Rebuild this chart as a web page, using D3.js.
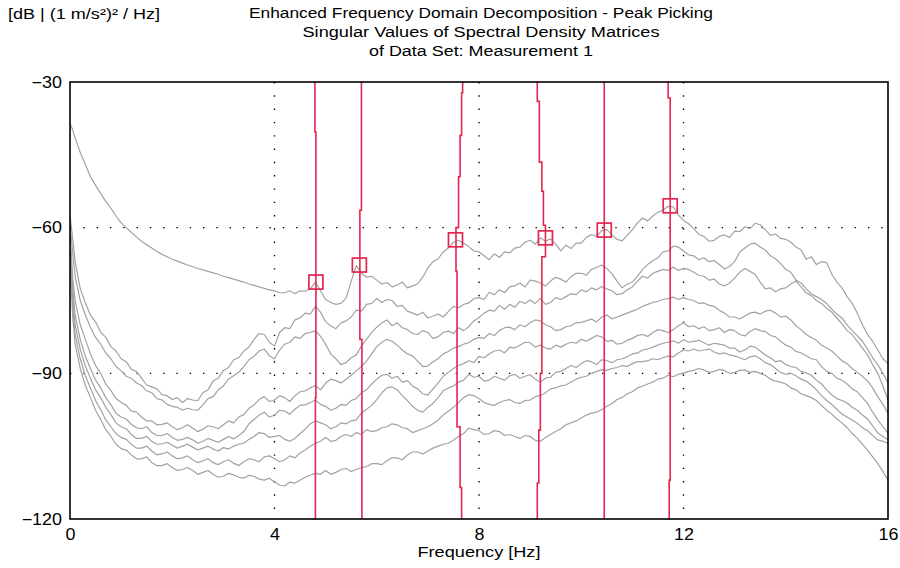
<!DOCTYPE html>
<html>
<head>
<meta charset="utf-8">
<script src="https://cdn.jsdelivr.net/npm/d3@7"></script>
<style>
  body { margin: 0; background: #fff; }
  text { font-family: "Liberation Sans", Arial, sans-serif; fill: #000; }
</style>
</head>
<body>
<div class="efdd"></div>
<script>
// frequency grid [Hz]
const freq = [0, 0.05, 0.1, 0.2, 0.3,
  0.4, 0.5, 0.6, 0.7, 0.8, 0.9,
  1.0, 1.1, 1.2, 1.3, 1.4, 1.5, 1.6, 1.7, 1.8, 1.9,
  2.0, 2.1, 2.2, 2.3, 2.4, 2.5, 2.6, 2.7, 2.8, 2.9,
  3.0, 3.1, 3.2, 3.3, 3.4, 3.5, 3.6, 3.7, 3.8, 3.9,
  4.0, 4.1, 4.2, 4.3, 4.4, 4.5, 4.6, 4.7, 4.8, 4.9,
  5.0, 5.1, 5.2, 5.3, 5.4, 5.5, 5.6, 5.7, 5.8, 5.9,
  6.0, 6.1, 6.2, 6.3, 6.4, 6.5, 6.6, 6.7, 6.8, 6.9,
  7.0, 7.1, 7.2, 7.3, 7.4, 7.5, 7.6, 7.7, 7.8, 7.9,
  8.0, 8.1, 8.2, 8.3, 8.4, 8.5, 8.6, 8.7, 8.8, 8.9,
  9.0, 9.1, 9.2, 9.3, 9.4, 9.5, 9.6, 9.7, 9.8, 9.9,
  10.0, 10.1, 10.2, 10.3, 10.4, 10.5, 10.6, 10.7, 10.8, 10.9,
  11.0, 11.1, 11.2, 11.3, 11.4, 11.5, 11.6, 11.7, 11.8, 11.9,
  12.0, 12.1, 12.2, 12.3, 12.4, 12.5, 12.6, 12.7, 12.8, 12.9,
  13.0, 13.1, 13.2, 13.3, 13.4, 13.5, 13.6, 13.7, 13.8, 13.9,
  14.0, 14.1, 14.2, 14.3, 14.4, 14.5, 14.6, 14.7, 14.8, 14.9,
  15.0, 15.1, 15.2, 15.3, 15.4, 15.5, 15.6, 15.7, 15.8, 15.9,
  16.0];

// singular values [dB]
const sv1 = [-38.5, -39.8, -41.5, -44.5, -47.0,
  -49.5, -51.3, -53.0, -54.6, -56.0, -57.6,
  -59.0, -60.0, -61.0, -61.9, -62.8, -63.5, -64.2, -64.9, -65.5, -66.0,
  -66.5, -66.9, -67.3, -67.7, -68.0, -68.4, -68.7, -69.0, -69.3, -69.6,
  -70.0, -70.3, -70.6, -70.9, -71.2, -71.6, -71.9, -72.2, -72.5, -72.8,
  -73.0, -73.4, -73.4, -73.0, -73.6, -73.0, -73.1, -72.6, -71.2, -73.0,
  -74.8, -75.4, -75.8, -75.6, -74.5, -71.0, -67.8, -69.4, -70.2, -70.0,
  -70.8, -71.6, -71.3, -72.2, -71.8, -71.2, -72.4, -72.0, -71.6, -70.2,
  -68.3, -67.0, -66.4, -65.0, -64.2, -63.0, -62.6, -63.2, -63.9, -64.8,
  -65.0, -65.8, -66.6, -65.4, -66.1, -65.0, -65.2, -64.2, -64.0, -63.0,
  -62.6, -63.4, -62.1, -62.8, -62.3, -63.4, -64.8, -63.6, -64.3, -63.2,
  -63.2, -62.0, -61.4, -61.8, -60.6, -60.4, -61.5, -62.4, -62.7, -61.6,
  -60.4, -59.0, -58.0, -58.6, -57.6, -56.8, -56.4, -55.6, -55.7, -57.4,
  -58.5, -59.2, -60.2, -61.4, -61.8, -62.8, -62.6, -61.8, -61.5, -62.0,
  -60.7, -60.8, -59.8, -60.2, -59.1, -59.4, -60.4, -61.6, -61.3, -62.2,
  -62.4, -63.0, -64.0, -64.6, -66.5, -66.0, -67.6, -67.0, -67.2, -69.6,
  -71.2, -72.4, -74.2, -75.6, -77.6, -80.0, -82.0, -83.4, -85.2, -87.0,
  -88.0];
const sv2 = [-57.5, -62.0, -67.0, -72.5, -75.5,
  -78.0, -79.4, -81.5, -82.6, -84.5, -85.4,
  -87.0, -87.6, -89.2, -89.6, -91.0, -92.4, -92.8, -93.2, -94.4, -94.6,
  -95.4, -95.0, -96.0, -95.2, -95.5, -95.6, -94.0, -93.4, -91.6, -91.0,
  -89.4, -88.8, -87.2, -86.8, -85.4, -84.6, -83.0, -81.8, -82.0, -83.6,
  -84.4, -81.6, -80.6, -80.8, -79.0, -78.6, -77.6, -77.8, -76.2, -77.4,
  -79.4, -80.2, -80.8, -79.6, -79.2, -78.4, -77.0, -77.2, -75.8, -75.6,
  -74.6, -75.4, -74.8, -75.0, -76.2, -76.0, -77.2, -77.6, -78.0, -77.4,
  -78.6, -78.2, -77.8, -78.4, -77.3, -76.2, -76.5, -75.8, -75.5, -74.6,
  -74.4, -74.8, -73.3, -73.8, -72.8, -73.4, -72.2, -72.0, -71.4, -72.2,
  -70.8, -71.0, -71.4, -72.0, -71.0, -70.2, -70.6, -71.2, -70.1, -69.4,
  -69.4, -69.8, -68.6, -68.2, -67.7, -68.4, -69.5, -71.0, -72.4, -71.6,
  -71.2, -70.0, -68.6, -67.6, -66.8, -66.2, -65.0, -64.8, -63.8, -64.0,
  -64.8, -65.6, -65.8, -66.6, -66.2, -67.0, -66.8, -67.6, -68.5, -68.0,
  -67.0, -65.0, -64.2, -63.4, -63.2, -64.0, -64.6, -65.8, -66.4, -67.4,
  -68.6, -69.2, -70.8, -71.4, -72.6, -73.6, -74.2, -74.8, -75.6, -76.8,
  -77.8, -78.6, -80.0, -81.2, -82.3, -83.4, -85.0, -86.8, -88.2, -90.0,
  -92.0];
const sv3 = [-59.0, -65.0, -70.0, -75.0, -78.0,
  -80.5, -82.6, -84.0, -85.8, -87.0, -88.6,
  -89.5, -90.6, -91.0, -92.0, -92.5, -93.6, -94.0, -95.2, -95.5, -96.4,
  -96.8, -97.0, -97.6, -97.2, -97.5, -97.6, -96.5, -95.2, -94.8, -93.4,
  -92.6, -91.2, -90.5, -89.8, -88.6, -87.2, -86.5, -85.4, -85.0, -86.4,
  -87.0, -85.2, -84.0, -83.6, -82.5, -82.8, -81.8, -81.6, -81.2, -82.4,
  -84.0, -86.0, -87.0, -88.2, -87.8, -86.8, -86.2, -84.4, -83.0, -81.6,
  -80.5, -79.6, -79.0, -80.2, -79.6, -80.6, -81.0, -81.8, -82.0, -81.2,
  -81.6, -82.8, -82.5, -81.6, -81.3, -81.8, -80.6, -81.2, -80.4, -79.2,
  -78.5, -77.6, -77.0, -77.2, -76.0, -76.8, -75.8, -76.4, -75.2, -75.6,
  -74.9, -75.6, -74.6, -75.8, -75.4, -74.4, -74.8, -74.2, -73.6, -73.8,
  -72.8, -73.2, -72.4, -72.8, -72.1, -72.6, -73.0, -73.8, -73.6, -72.8,
  -72.2, -71.0, -70.0, -70.4, -69.4, -69.0, -68.6, -68.8, -68.1, -68.8,
  -68.4, -68.6, -69.2, -69.8, -70.0, -70.8, -70.6, -71.6, -72.0, -71.4,
  -70.4, -69.2, -68.4, -69.0, -69.6, -71.2, -72.6, -72.4, -73.2, -72.6,
  -72.4, -71.6, -71.0, -72.2, -73.4, -74.0, -75.0, -75.6, -76.6, -77.4,
  -78.6, -79.8, -81.2, -82.0, -83.4, -84.8, -86.2, -88.2, -90.0, -92.6,
  -95.5];
const sv4 = [-61.0, -70.0, -75.0, -80.0, -83.0,
  -86.0, -88.4, -90.0, -92.2, -93.5, -95.2,
  -96.0, -96.6, -97.8, -98.0, -99.0, -99.8, -99.8, -100.6, -100.5, -100.2,
  -101.0, -101.6, -101.2, -100.6, -101.3, -102.0, -101.5, -100.8, -101.0, -101.4,
  -100.6, -99.8, -100.2, -99.0, -98.5, -97.2, -96.5, -95.4, -94.8, -95.8,
  -95.5, -94.6, -95.0, -95.8, -94.6, -93.8, -93.6, -93.0, -92.5, -93.4,
  -92.0, -91.2, -91.5, -92.0, -91.2, -90.4, -89.5, -88.6, -87.5, -86.0,
  -84.5, -83.6, -83.0, -83.4, -84.2, -85.2, -86.0, -86.4, -87.5, -88.6,
  -88.5, -87.6, -87.0, -86.0, -85.5, -84.8, -84.5, -84.0, -83.7, -83.0,
  -82.6, -82.8, -81.8, -82.2, -81.2, -80.6, -80.5, -81.0, -80.0, -80.4,
  -79.6, -79.0, -79.2, -80.0, -80.4, -81.2, -81.0, -80.4, -80.2, -79.6,
  -79.5, -79.2, -78.8, -79.4, -78.4, -78.0, -78.8, -78.4, -78.0, -77.6,
  -77.2, -76.8, -76.2, -75.8, -75.4, -75.2, -74.8, -74.6, -74.3, -74.8,
  -74.4, -74.8, -75.0, -75.6, -75.5, -76.0, -76.2, -77.0, -77.6, -78.4,
  -78.4, -78.8, -78.2, -77.6, -77.4, -77.8, -77.2, -77.0, -77.6, -78.4,
  -78.2, -79.0, -80.2, -81.0, -82.0, -82.6, -83.2, -84.2, -84.8, -85.4,
  -86.4, -87.4, -88.0, -89.0, -89.8, -90.6, -91.6, -93.0, -94.8, -96.4,
  -98.2];
const sv5 = [-62.0, -72.0, -78.0, -83.0, -86.5,
  -89.0, -91.4, -93.0, -95.0, -96.5, -98.2,
  -99.0, -99.4, -100.5, -101.2, -101.4, -101.0, -102.2, -102.8, -102.8, -102.4,
  -103.2, -103.8, -103.6, -103.2, -103.7, -104.4, -104.0, -103.4, -103.8, -104.2,
  -103.6, -103.0, -103.5, -102.8, -102.0, -100.4, -99.5, -98.6, -98.0, -99.0,
  -98.6, -97.6, -97.8, -98.4, -97.4, -96.6, -96.5, -96.0, -95.5, -96.4,
  -96.8, -97.6, -97.2, -96.4, -96.6, -95.6, -95.2, -94.0, -93.4, -92.2,
  -91.2, -90.4, -90.2, -91.0, -90.6, -91.8, -91.5, -92.6, -93.2, -94.2,
  -94.5, -93.2, -92.0, -90.6, -89.8, -89.0, -88.4, -88.0, -87.4, -87.8,
  -86.5, -86.8, -86.0, -85.4, -85.2, -85.8, -84.6, -84.8, -84.2, -83.6,
  -83.7, -84.6, -84.2, -84.8, -85.0, -84.2, -84.6, -84.0, -83.6, -83.8,
  -83.0, -83.4, -82.8, -82.2, -82.5, -83.4, -83.2, -84.0, -83.8, -83.2,
  -82.8, -82.2, -82.0, -82.4, -81.6, -81.0, -81.2, -81.6, -81.0, -80.2,
  -79.6, -80.4, -80.2, -80.8, -80.4, -81.2, -81.0, -80.6, -81.6, -81.0,
  -81.2, -82.0, -82.3, -81.4, -80.8, -81.2, -81.4, -82.2, -82.5, -83.4,
  -84.2, -84.6, -85.5, -85.8, -86.4, -87.0, -87.2, -88.6, -89.6, -90.0,
  -91.0, -91.4, -92.2, -93.2, -93.8, -95.0, -96.2, -98.0, -99.6, -101.0,
  -102.3];
const sv6 = [-63.0, -74.0, -80.0, -85.0, -88.5,
  -91.0, -93.4, -95.0, -97.0, -98.5, -100.2,
  -101.0, -101.4, -102.6, -103.4, -103.4, -103.0, -104.0, -104.6, -104.5, -104.2,
  -104.8, -105.4, -105.0, -104.6, -105.2, -105.8, -105.4, -105.0, -105.6, -106.0,
  -105.3, -105.6, -105.0, -104.6, -104.4, -103.6, -103.0, -102.2, -102.4, -103.2,
  -103.0, -102.8, -103.6, -104.0, -103.4, -102.4, -101.5, -100.4, -99.8, -100.2,
  -100.6, -101.4, -101.0, -100.2, -100.4, -99.8, -99.6, -98.2, -97.4, -96.6,
  -95.4, -94.0, -93.0, -92.8, -93.4, -94.6, -95.6, -96.8, -97.6, -98.0,
  -97.0, -96.2, -95.0, -93.6, -93.0, -92.6, -91.8, -91.4, -90.2, -90.8,
  -90.6, -91.6, -91.4, -90.6, -91.0, -91.4, -90.5, -90.2, -91.0, -90.6,
  -90.3, -91.2, -91.8, -91.0, -90.8, -89.8, -89.6, -89.0, -88.4, -88.8,
  -88.0, -87.4, -87.6, -88.2, -87.2, -87.4, -87.8, -87.2, -87.0, -86.6,
  -86.0, -85.8, -85.2, -85.0, -84.6, -84.2, -83.8, -83.6, -83.3, -83.8,
  -83.1, -83.6, -83.4, -83.2, -83.7, -84.2, -83.8, -84.0, -84.2, -84.8,
  -84.8, -85.6, -85.2, -84.4, -84.6, -85.4, -86.2, -86.8, -87.6, -87.4,
  -88.2, -88.6, -88.8, -89.6, -89.9, -90.4, -91.4, -92.2, -93.4, -94.4,
  -95.2, -95.6, -96.1, -97.0, -97.6, -98.6, -99.4, -100.8, -102.3, -103.0,
  -103.7];
const sv7 = [-64.0, -76.0, -82.0, -87.0, -90.5,
  -93.0, -95.6, -97.5, -99.6, -101.0, -102.4,
  -103.2, -103.6, -104.6, -105.4, -105.4, -105.0, -106.0, -106.8, -106.6, -106.2,
  -107.0, -107.6, -107.4, -107.0, -107.8, -108.4, -108.0, -107.6, -108.4, -108.8,
  -108.2, -107.8, -108.5, -109.0, -108.2, -107.6, -107.8, -108.2, -107.2, -107.0,
  -107.6, -108.2, -107.8, -107.0, -107.4, -106.4, -105.8, -105.0, -104.4, -104.0,
  -103.2, -104.0, -103.8, -103.0, -102.6, -103.0, -102.2, -102.6, -101.6, -102.0,
  -101.8, -101.2, -101.0, -100.4, -100.6, -101.2, -101.4, -102.2, -101.8, -101.4,
  -101.0, -100.4, -99.6, -98.6, -97.8, -97.0, -96.0, -95.0, -94.4, -94.6,
  -95.2, -96.0, -96.4, -96.6, -96.0, -95.6, -95.4, -96.0, -96.2, -95.6,
  -95.5, -94.8, -94.6, -94.0, -93.2, -93.0, -92.6, -92.4, -91.8, -91.2,
  -90.8, -90.6, -90.0, -89.6, -89.3, -89.4, -89.0, -88.8, -88.4, -88.6,
  -88.0, -87.6, -87.6, -87.4, -87.0, -87.2, -86.8, -86.4, -86.6, -85.8,
  -85.2, -85.4, -85.0, -85.4, -85.2, -85.0, -85.6, -86.0, -85.8, -86.2,
  -86.4, -86.8, -87.2, -86.6, -86.4, -87.0, -87.8, -88.2, -89.0, -89.8,
  -90.2, -90.0, -90.5, -91.2, -91.6, -92.4, -93.4, -94.6, -95.6, -96.4,
  -97.4, -98.4, -99.0, -99.6, -100.3, -101.2, -101.8, -102.8, -103.7, -104.0,
  -104.4];
const sv8 = [-65.0, -78.0, -84.0, -89.0, -92.5,
  -95.0, -97.6, -99.5, -101.6, -103.0, -104.6,
  -105.5, -105.8, -106.8, -107.6, -107.6, -107.2, -108.4, -109.0, -109.0, -108.6,
  -109.4, -110.0, -109.8, -109.4, -110.0, -110.8, -110.4, -110.0, -110.8, -111.4,
  -111.2, -110.6, -110.9, -111.4, -111.6, -111.0, -111.2, -111.8, -112.0, -111.6,
  -112.4, -113.0, -113.2, -112.4, -112.6, -112.0, -111.4, -111.0, -110.6, -110.8,
  -110.0, -110.8, -110.4, -109.8, -109.6, -110.2, -109.8, -109.4, -109.2, -108.6,
  -108.6, -108.8, -108.0, -107.4, -107.4, -107.8, -106.8, -106.2, -106.2, -106.6,
  -106.0, -105.4, -105.0, -104.6, -104.4, -103.8, -103.0, -102.4, -101.3, -101.6,
  -101.8, -102.6, -102.4, -101.8, -102.0, -102.8, -102.6, -103.0, -103.4, -102.8,
  -103.0, -103.8, -104.0, -103.2, -102.6, -102.0, -101.4, -100.6, -100.2, -99.8,
  -99.2, -98.6, -98.2, -98.0, -97.5, -96.8, -96.2, -95.4, -95.0, -94.2,
  -93.8, -93.0, -92.6, -92.2, -91.8, -91.2, -91.0, -90.4, -90.7, -90.2,
  -90.0, -89.6, -89.4, -89.0, -89.3, -89.8, -89.6, -89.2, -89.4, -90.0,
  -89.8, -89.4, -89.3, -89.8, -89.6, -90.0, -90.4, -91.2, -91.6, -91.8,
  -92.2, -93.0, -93.4, -94.2, -94.6, -95.0, -95.6, -96.6, -97.6, -98.4,
  -99.4, -100.2, -101.2, -102.4, -103.4, -104.6, -105.8, -107.2, -108.6, -110.2,
  -112.0];

// picked peaks
const peakFreq = [4.81, 5.66, 7.54, 9.30, 10.45, 11.74];
const peakDb = [-71.2, -67.7, -62.5, -62.1, -60.5, -55.5];

// mode tracks, [freq, dB] from top down
const track1 = [[4.79, -30], [4.81, -40.3], [4.80, -95], [4.78, -120]];
const track2 = [[5.70, -30], [5.67, -56.4], [5.71, -83], [5.71, -120]];
const track3 = [[7.68, -30], [7.66, -32.2], [7.63, -41], [7.60, -49.5], [7.55, -60], [7.57, -69], [7.63, -101], [7.66, -113.5], [7.66, -120]];
const track4 = [[9.14, -30], [9.18, -34], [9.23, -46.5], [9.26, -52.5], [9.30, -59.5], [9.23, -66], [9.20, -90], [9.17, -101.7], [9.14, -112.6], [9.14, -120]];
const track5 = [[10.45, -30], [10.45, -120]];
const track6 = [[11.70, -30], [11.74, -33.3], [11.72, -112], [11.70, -120]];

const xTicks = [0, 4, 8, 12, 16];
const yTicks = [-120, -90, -60, -30];
const xGrid = [4, 8, 12];
const yGrid = [-90, -60];

const titleLines = ["Enhanced Frequency Domain Decomposition - Peak Picking",
  "Singular Values of Spectral Density Matrices",
  "of Data Set: Measurement 1"];
const unitLabel = "[dB | (1 m/s\u00b2)\u00b2 / Hz]";
const xLabel = "Frequency [Hz]";

function makechart() {
  const width = 900;
  const height = 568;
  const margin = { top: 82, right: 12, bottom: 49, left: 70 };
  const red = "#e2264f";

  const svg = d3.select(".efdd")
    .append("svg")
    .attr("width", width)
    .attr("height", height);

  const x = d3.scaleLinear()
    .domain([0, 16])
    .range([margin.left, width - margin.right]);

  const y = d3.scaleLinear()
    .domain([-120, -30])
    .range([height - margin.bottom, margin.top]);

  // stretch text a bit, the original font is wide
  const widen = (sel, k) => sel.each(function () {
    this.setAttribute("textLength", this.getComputedTextLength() * k);
    this.setAttribute("lengthAdjust", "spacingAndGlyphs");
  });

  svg.append("clipPath").attr("id", "plot")
    .append("rect")
    .attr("x", margin.left).attr("y", margin.top)
    .attr("width", width - margin.left - margin.right)
    .attr("height", height - margin.top - margin.bottom);

  // dotted grid
  svg.append("g")
    .attr("stroke", "#000")
    .attr("stroke-width", 1.4)
    .attr("stroke-dasharray", "1.4 11.9")
    .selectAll("line")
    .data(xGrid)
    .join("line")
    .attr("x1", d => x(d)).attr("x2", d => x(d))
    .attr("y1", y(-30)).attr("y2", y(-120));

  svg.append("g")
    .attr("stroke", "#000")
    .attr("stroke-width", 1.4)
    .attr("stroke-dasharray", "1.4 11.9")
    .selectAll("line")
    .data(yGrid)
    .join("line")
    .attr("x1", x(0)).attr("x2", x(16))
    .attr("y1", d => y(d)).attr("y2", d => y(d));

  // singular value curves
  const series = [sv1, sv2, sv3, sv4, sv5, sv6, sv7, sv8];
  const line = d3.line()
    .x((d, i) => x(freq[i]))
    .y(d => y(d));

  svg.append("g")
    .attr("clip-path", "url(#plot)")
    .selectAll("path")
    .data(series)
    .join("path")
    .attr("fill", "none")
    .attr("stroke", "#a2a2a2")
    .attr("stroke-width", 1.2)
    .attr("stroke-linejoin", "round")
    .attr("d", line);

  // mode tracks
  const trackLine = d3.line()
    .x(d => x(d[0]))
    .y(d => y(d[1]))
    .curve(d3.curveStepBefore);

  svg.append("g")
    .selectAll("path")
    .data([track1, track2, track3, track4, track5, track6])
    .join("path")
    .attr("fill", "none")
    .attr("stroke", red)
    .attr("stroke-width", 1.6)
    .attr("d", trackLine);

  // peak markers
  const s = 14;
  svg.append("g")
    .selectAll("rect")
    .data(peakFreq)
    .join("rect")
    .attr("x", d => x(d) - s / 2)
    .attr("y", (d, i) => y(peakDb[i]) - s / 2)
    .attr("width", s)
    .attr("height", s)
    .attr("fill", "none")
    .attr("stroke", red)
    .attr("stroke-width", 1.7);

  // frame
  svg.append("rect")
    .attr("x", x(0)).attr("y", y(-30))
    .attr("width", x(16) - x(0))
    .attr("height", y(-120) - y(-30))
    .attr("fill", "none")
    .attr("stroke", "#000")
    .attr("stroke-width", 1.6);

  const xAxis = g => g
    .attr("transform", `translate(0,${height - margin.bottom})`)
    .call(d3.axisBottom(x).tickValues(xTicks).tickSize(0).tickPadding(10).tickFormat(d3.format("d")))
    .call(g => g.select(".domain").remove())
    .call(g => g.selectAll("text").attr("font-size", 16).attr("font-family", "Liberation Sans, Arial, sans-serif"));

  const yAxis = g => g
    .attr("transform", `translate(${margin.left},0)`)
    .call(d3.axisLeft(y).tickValues(yTicks).tickSize(0).tickPadding(8).tickFormat(d3.format("d")))
    .call(g => g.select(".domain").remove())
    .call(g => g.selectAll("text").attr("font-size", 16).attr("font-family", "Liberation Sans, Arial, sans-serif"));

  const gx = svg.append("g").call(xAxis);
  const gy = svg.append("g").call(yAxis);
  widen(gx.selectAll("text"), 1.12);
  widen(gy.selectAll("text"), 1.12);

  // titles
  const titleWidths = [464, 357, 224];
  svg.append("g")
    .selectAll("text")
    .data(titleLines)
    .join("text")
    .attr("x", 481)
    .attr("y", (d, i) => 18 + i * 19)
    .attr("text-anchor", "middle")
    .attr("font-size", 14)
    .attr("textLength", (d, i) => titleWidths[i])
    .attr("lengthAdjust", "spacingAndGlyphs")
    .text(d => d);

  svg.append("text")
    .attr("x", 8)
    .attr("y", 19)
    .attr("font-size", 14)
    .attr("textLength", 152)
    .attr("lengthAdjust", "spacingAndGlyphs")
    .text(unitLabel);

  svg.append("text")
    .attr("x", 479)
    .attr("y", 557)
    .attr("text-anchor", "middle")
    .attr("font-size", 14)
    .attr("textLength", 123)
    .attr("lengthAdjust", "spacingAndGlyphs")
    .text(xLabel);
}

makechart();
</script>
</body>
</html>
